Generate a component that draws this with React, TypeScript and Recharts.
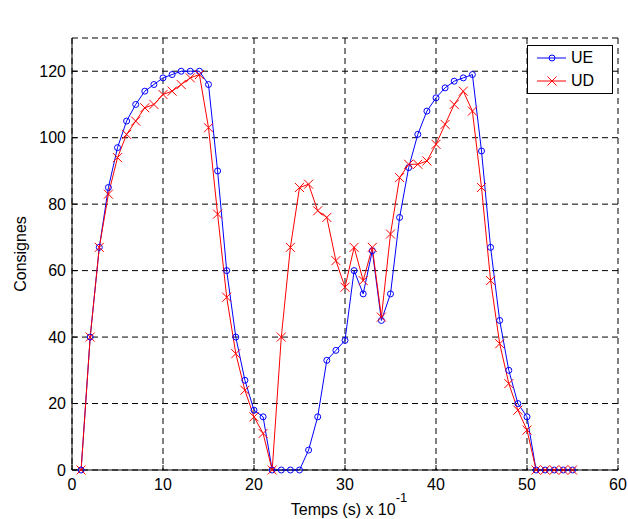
import { LineChart, Line, XAxis, YAxis, CartesianGrid, Legend } from "recharts"

const TIME = [
  1, 2, 3, 4, 5, 6, 7, 8, 9, 10, 11, 12, 13, 14, 15, 16, 17, 18, 19, 20, 21, 22, 23, 24, 25, 26, 27, 28,
  29, 30, 31, 32, 33, 34, 35, 36, 37, 38, 39, 40, 41, 42, 43, 44, 45, 46, 47, 48, 49, 50, 51, 52, 53, 54, 55,
]

const UE = [
  0, 40, 67, 85, 97, 105, 110, 114, 116, 118, 119, 120, 120, 120, 116, 90, 60, 40, 27, 18, 16, 0, 0, 0, 0, 6, 16,
  33, 36, 39, 60, 53, 66, 45, 53, 76, 91, 101, 108, 112, 115, 117, 118, 119, 96, 67, 45, 30, 20, 16, 0, 0, 0, 0, 0,
]

const UD = [
  0, 40, 67, 83, 94, 101, 105, 109, 110, 113, 114, 116, 118, 119, 103, 77, 52, 35, 24, 16, 11, 0, 40, 67, 85, 86,
  78, 76, 63, 55, 67, 57, 67, 46, 71, 88, 92, 92, 93, 98, 104, 110, 114, 108, 85, 57, 38, 26, 18, 12, 0, 0, 0, 0, 0,
]

const X_TICKS = [0, 10, 20, 30, 40, 50, 60]
const Y_TICKS = [0, 20, 40, 60, 80, 100, 120]

const data = TIME.map((t, i) => ({ t, UE: UE[i], UD: UD[i] }))

const FONT = "'Liberation Sans', Arial, sans-serif"
const BLUE = "#0000ff"
const RED = "#ff0000"

function Cross(props: any) {
  const { cx, cy, stroke } = props
  if (cx == null || cy == null) return null
  const s = 4.5
  return (
    <g>
      <line x1={cx - s} y1={cy - s} x2={cx + s} y2={cy + s} stroke={stroke} strokeWidth={1} />
      <line x1={cx - s} y1={cy + s} x2={cx + s} y2={cy - s} stroke={stroke} strokeWidth={1} />
    </g>
  )
}

function renderLegend() {
  const row = (name: string, color: string, cross: boolean) => (
    <div style={{ display: "flex", alignItems: "center", height: 23 }}>
      <svg width={40} height={14}>
        <line x1={9} y1={7} x2={38} y2={7} stroke={color} strokeWidth={1} />
        {cross ? (
          <Cross cx={24} cy={7} stroke={color} />
        ) : (
          <circle cx={24} cy={7} r={3} stroke={color} fill="none" />
        )}
      </svg>
      <span style={{ marginLeft: 3, fontSize: 16, color: "#000" }}>{name}</span>
    </div>
  )
  return (
    <div
      style={{
        border: "1px solid #000",
        background: "#fff",
        fontFamily: FONT,
        padding: "0 0 1px 0",
        boxSizing: "border-box",
        width: 86,
      }}
    >
      {row("UE", BLUE, false)}
      {row("UD", RED, true)}
    </div>
  )
}

function XLabel(props: any) {
  const { viewBox } = props
  const cx = viewBox.x + viewBox.width / 2
  return (
    <text x={cx + 4} y={515} textAnchor="middle" fontFamily={FONT} fontSize={16} fill="#000">
      Temps (s) x 10
      <tspan dy={-13} fontSize={13}>
        -1
      </tspan>
    </text>
  )
}

function YLabel(props: any) {
  const { viewBox } = props
  const cy = viewBox.y + viewBox.height / 2
  return (
    <text
      x={26}
      y={cy}
      transform={`rotate(-90 26 ${cy})`}
      textAnchor="middle"
      fontFamily={FONT}
      fontSize={16}
      fill="#000"
    >
      Consignes
    </text>
  )
}

export default function App() {
  const tickStyle = { fontFamily: FONT, fontSize: 16, fill: "#000" }
  return (
    <div style={{ width: 628, height: 519, background: "#fff" }}>
      <style>{"body{margin:0}"}</style>
      <LineChart width={628} height={519} data={data} margin={{ top: 38, right: 10, left: 0, bottom: 0 }}>
        <CartesianGrid stroke="#000" strokeDasharray="6 4" />
        <XAxis
          dataKey="t"
          type="number"
          domain={[0, 60]}
          ticks={X_TICKS}
          height={49}
          stroke="#000"
          tickSize={-5}
          tickMargin={14}
          tick={tickStyle}
          label={<XLabel />}
        />
        <XAxis
          xAxisId="top"
          orientation="top"
          dataKey="t"
          type="number"
          domain={[0, 60]}
          ticks={X_TICKS}
          height={0}
          stroke="#000"
          tickSize={-5}
          tick={false}
          label={{
            value: "MÈTODE VALOR ÒPTIM",
            position: "top",
            offset: 14,
            style: { fontFamily: FONT, fontSize: 16, fill: "#000", letterSpacing: 1.2 },
          }}
        />
        <YAxis
          type="number"
          domain={[0, 130]}
          ticks={Y_TICKS}
          width={72}
          stroke="#000"
          tickSize={-5}
          tickMargin={11}
          tick={tickStyle}
          label={<YLabel />}
        />
        <YAxis
          yAxisId="right"
          orientation="right"
          type="number"
          domain={[0, 130]}
          ticks={Y_TICKS}
          width={0}
          stroke="#000"
          tickSize={-5}
          tick={false}
        />
        <Legend
          content={renderLegend}
          layout="horizontal"
          verticalAlign="middle"
          wrapperStyle={{ left: 527, top: 45, width: 86, height: "auto" }}
        />
        <Line
          dataKey="UE"
          type="linear"
          stroke={BLUE}
          strokeWidth={1}
          dot={{ r: 3, stroke: BLUE, fill: "none", strokeWidth: 1 }}
          isAnimationActive={false}
        />
        <Line
          dataKey="UD"
          type="linear"
          stroke={RED}
          strokeWidth={1}
          dot={<Cross stroke={RED} />}
          isAnimationActive={false}
        />
      </LineChart>
    </div>
  )
}
